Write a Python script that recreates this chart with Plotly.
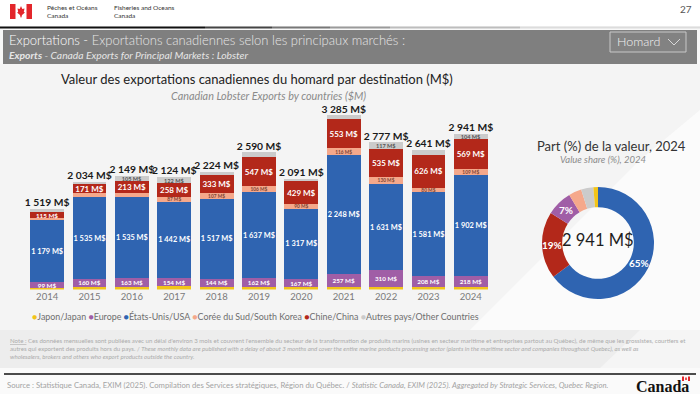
import math
import plotly.graph_objects as go

W, H = 700, 394


def px(x):
    return x / W


def py(y):
    return 1 - y / H


# ---------------- data ----------------
years = ["2014", "2015", "2016", "2017", "2018", "2019", "2020", "2021", "2022", "2023", "2024"]
japan = [35, 43, 53, 61, 53, 48, 38, 41, 54, 46, 39]
europe = [99, 160, 163, 154, 144, 162, 167, 257, 310, 208, 218]
usa = [1179, 1535, 1535, 1442, 1517, 1637, 1317, 2248, 1631, 1581, 1902]
korea = [30, 80, 80, 87, 107, 106, 90, 116, 130, 80, 109]
china = [115, 171, 213, 258, 333, 547, 429, 553, 535, 626, 569]
other = [61, 45, 105, 122, 70, 90, 50, 70, 117, 100, 104]
totals = [1519, 2034, 2149, 2124, 2224, 2590, 2091, 3285, 2777, 2641, 2941]

# which segment values carry a printed label in the reference
korea_labelled = [False, False, False, True, True, True, True, True, True, True, True]
other_labelled = [False, False, True, True, False, False, False, False, True, False, True]

series_names = ["Japon/Japan", "Europe", "États-Unis/USA", "Corée du Sud/South Korea",
                "Chine/China", "Autres pays/Other Countries"]

FONT = "Lato, 'Open Sans', sans-serif"
COL = {
    "japan": "#f2c419",
    "europe": "#a05ea6",
    "usa": "#2f64b1",
    "korea": "#f5a88b",
    "china": "#b3281a",
    "other": "#cbcbcb",
}


def fmt(v):
    return f"{v:,}".replace(",", " ") + " M$"


fig = go.Figure()

# (key, values, labels, text colour, text size)
stack = [
    ("japan", japan, [""] * len(years), "#ffffff", 6),
    ("europe", europe, [fmt(v) for v in europe], "#ffffff", 6.3),
    ("usa", usa, [fmt(v) for v in usa], "#ffffff", 7.4),
    ("korea", korea, [fmt(v) if f else "" for v, f in zip(korea, korea_labelled)], "#7a4535", 4.8),
    ("china", china, [fmt(v) for v in china], "#ffffff", [6.3] + [8] * 10),
    ("other", other, [fmt(v) if f else "" for v, f in zip(other, other_labelled)], "#555555", 5.6),
]
for (key, vals, txts, tcol, tsize), name in zip(stack, series_names):
    fig.add_trace(go.Bar(
        x=years, y=vals, name=name, marker=dict(color=COL[key], line=dict(width=0)),
        text=txts, textposition="inside", insidetextanchor="middle", textangle=0,
        constraintext="none",
        textfont=dict(color=tcol, size=tsize, family=FONT, weight="bold"),
        showlegend=False, hoverinfo="skip", cliponaxis=False,
    ))

fig.add_trace(go.Scatter(
    x=years, y=totals, mode="text", text=[fmt(v) for v in totals],
    textposition="top center",
    textfont=dict(size=10.3, color="#1a1a1a", family=FONT, weight="bold"),
    showlegend=False, hoverinfo="skip", cliponaxis=False,
))

# donut (2024)
donut_vals = [usa[-1], china[-1], europe[-1], korea[-1], other[-1], japan[-1]]
donut_cols = [COL["usa"], COL["china"], COL["europe"], COL["korea"], COL["other"], COL["japan"]]
CX, CY, R, HOLE = 598, 243, 56, 0.64
fig.add_trace(go.Pie(
    values=donut_vals, labels=[series_names[i] for i in (2, 4, 1, 3, 5, 0)],
    marker=dict(colors=donut_cols, line=dict(width=0)),
    hole=HOLE, sort=False, direction="clockwise", rotation=0,
    textinfo="none",
    domain=dict(x=[px(CX - R), px(CX + R)], y=[py(CY + R), py(CY - R)]),
    showlegend=False, hoverinfo="skip",
))

# ---------------- decoration shapes ----------------
shapes = []
# chart area background (light grey)
shapes.append(dict(type="rect", xref="paper", yref="paper", x0=0, x1=1, y0=py(330), y1=py(64),
                   fillcolor="#f4f4f4", line=dict(width=0), layer="below"))
shapes.append(dict(type="path", xref="paper", yref="paper",
                   path=f"M {px(470)} {py(330)} L {px(640)} {py(160)} L {px(700)} {py(110)} L {px(700)} {py(330)} Z",
                   fillcolor="#fbfbfb", line=dict(width=0), layer="below"))
# header white
shapes.append(dict(type="rect", xref="paper", yref="paper", x0=0, x1=1, y0=py(26), y1=1,
                   fillcolor="#ffffff", line=dict(width=0), layer="below"))
# gradient line under header
for x0, x1, c in [(0, 205, "#111111"), (205, 272, "#444444"), (272, 330, "#777777"),
                  (330, 390, "#9a9a9a"), (390, 520, "#bdbdbd"), (520, 700, "#dcdcdc")]:
    shapes.append(dict(type="rect", xref="paper", yref="paper", x0=px(x0), x1=px(x1),
                       y0=py(28.5), y1=py(26.5), fillcolor=c, line=dict(width=0)))
# grey banner
shapes.append(dict(type="rect", xref="paper", yref="paper", x0=px(3), x1=px(697),
                   y0=py(64), y1=py(30), fillcolor="#7f7f7f", line=dict(width=0)))
# dropdown
shapes.append(dict(type="rect", xref="paper", yref="paper", x0=px(610), x1=px(686),
                   y0=py(52), y1=py(32), fillcolor="#828282", line=dict(color="#c8c8c8", width=1)))
shapes.append(dict(type="path", xref="paper", yref="paper",
                   path=f"M {px(668)} {py(39)} L {px(674)} {py(45)} L {px(680)} {py(39)}",
                   line=dict(color="#d8d8d8", width=1)))
# note band
shapes.append(dict(type="rect", xref="paper", yref="paper", x0=0, x1=1, y0=py(368), y1=py(330),
                   fillcolor="#ededed", line=dict(width=0), layer="below"))
shapes.append(dict(type="path", xref="paper", yref="paper",
                   path=f"M {px(600)} {py(368)} L {px(640)} {py(330)} L {px(700)} {py(330)} L {px(700)} {py(368)} Z",
                   fillcolor="#f5f5f5", line=dict(width=0), layer="below"))
# footer
shapes.append(dict(type="rect", xref="paper", yref="paper", x0=0, x1=1, y0=0, y1=py(368),
                   fillcolor="#fafafa", line=dict(width=0), layer="below"))
shapes.append(dict(type="line", xref="paper", yref="paper", x0=px(4), x1=px(696),
                   y0=py(374), y1=py(374), line=dict(color="#111111", width=1.3)))
# Canada flag logo
shapes.append(dict(type="rect", xref="paper", yref="paper", x0=px(10), x1=px(15.5),
                   y0=py(19), y1=py(4), fillcolor="#e3262b", line=dict(width=0)))
shapes.append(dict(type="rect", xref="paper", yref="paper", x0=px(26.5), x1=px(32),
                   y0=py(19), y1=py(4), fillcolor="#e3262b", line=dict(width=0)))
leaf = [(21, 6), (22.3, 9), (24.5, 8.5), (23.8, 12), (25, 12.5), (22, 15), (21.4, 17.5),
        (20.6, 17.5), (20, 15), (17, 12.5), (18.2, 12), (17.5, 8.5), (19.7, 9)]
shapes.append(dict(type="path", xref="paper", yref="paper",
                   path="M " + " L ".join(f"{px(a)} {py(b)}" for a, b in leaf) + " Z",
                   fillcolor="#e3262b", line=dict(width=0)))
# small flag over Canada wordmark
shapes.append(dict(type="rect", xref="paper", yref="paper", x0=px(682), x1=px(684),
                   y0=py(381), y1=py(376.5), fillcolor="#e3262b", line=dict(width=0)))
shapes.append(dict(type="rect", xref="paper", yref="paper", x0=px(688), x1=px(690),
                   y0=py(381), y1=py(376.5), fillcolor="#e3262b", line=dict(width=0)))
shapes.append(dict(type="rect", xref="paper", yref="paper", x0=px(685.2), x1=px(686.8),
                   y0=py(380), y1=py(377.5), fillcolor="#e3262b", line=dict(width=0)))

# ---------------- texts ----------------
ann = []


def txt(x, y, s, size, color, xanchor="left", family=FONT, weight=None, **kw):
    f = dict(size=size, color=color, family=family)
    if weight is not None:
        f["weight"] = weight
    ann.append(dict(x=px(x), y=py(y), xref="paper", yref="paper", text=s, showarrow=False,
                    xanchor=xanchor, yanchor="middle", font=f, **kw))


txt(45, 11, "Pêches et Océans<br>Canada", 6.5, "#333333", align="left")
txt(112, 11, "Fisheries and Oceans<br>Canada", 6.5, "#333333", align="left")
txt(694, 9, "27", 10, "#555555", xanchor="right")
txt(7, 40, "<span style='color:#ffffff'>Exportations - </span>Exportations canadiennes selon les principaux marchés :",
    13, "#e6e6e6", weight=300)
txt(7, 55, "<b><i>Exports</i></b><i> - Canada Exports for Principal Markets : Lobster</i>", 10.3, "#e6e6e6")
txt(615, 42, "Homard", 12.5, "#f2f2f2", weight=300)

txt(257, 79, "Valeur des exportations canadiennes du homard par destination (M$)", 13, "#222222",
    xanchor="center")
txt(268, 95, "<i>Canadian Lobster Exports by countries ($M)</i>", 10.8, "#8a8a8a", xanchor="center")

legend_items = list(zip(series_names, [COL[k] for k in ("japan", "europe", "usa", "korea", "china", "other")]))
legend_txt = " ".join(f"<span style='color:{c}'>●</span>{n}" for n, c in legend_items)
txt(255, 316, legend_txt, 8.9, "#6e6e6e", xanchor="center")

txt(611, 146, "Part (%) de la valeur, 2024", 13, "#333333", xanchor="center")
txt(603, 159, "<i>Value share (%), 2024</i>", 9.5, "#8c8c8c", xanchor="center")
txt(CX, CY - 3, "2 941 M$", 16.5, "#1e1e1e", xanchor="center")

# donut percentage labels, placed at the middle angle of each slice
tot24 = sum(donut_vals)
cum = 0
for v in donut_vals:
    share = v / tot24
    mid = (cum + share / 2) * 2 * math.pi
    cum += share
    if share > 0.05:
        rr = R * (1 + HOLE) / 2
        txt(CX + rr * math.sin(mid), CY - rr * math.cos(mid), f"<b>{round(share * 100)}%</b>", 10,
            "#ffffff", xanchor="center")

note = ("<u>Note :</u> Ces données mensuelles sont publiées avec un délai d'environ 3 mois et couvrent l'ensemble du secteur de la transformation de produits marins (usines en secteur maritime et entreprises partout au Québec), de même que les grossistes, courtiers et<br>"
        "autres qui exportent des produits hors du pays. / <i>These monthly data are published with a delay of about 3 months and cover the entire marine products processing sector (plants in the maritime sector and companies throughout Quebec), as well as</i><br>"
        "<i>wholesalers, brokers and others who export products outside the country.</i>")
txt(8, 348, note, 6.1, "#ababab", align="left")
txt(5, 385, "Source : Statistique Canada, EXIM (2025). Compilation des Services stratégiques, Région du Québec. / "
    "<i>Statistic Canada, EXIM (2025). Aggregated by Strategic Services, Quebec Region.</i>", 7.7, "#a3a3a3")
txt(691, 386, "<b>Canada</b>", 16, "#111111", xanchor="right", family="'Liberation Serif', 'DejaVu Serif', serif")

# ---------------- layout ----------------
fig.update_layout(
    width=W, height=H, margin=dict(l=0, r=0, t=0, b=0),
    paper_bgcolor="#f8f8f8", plot_bgcolor="rgba(0,0,0,0)",
    barmode="stack", bargap=0.2,
    font=dict(family=FONT),
    xaxis=dict(domain=[px(23.6), px(494.4)], type="category", showgrid=False, showline=False,
               zeroline=False, ticks="", tickfont=dict(size=9.5, color="#7a7a7a", family=FONT),
               fixedrange=True),
    yaxis=dict(domain=[py(289.5), py(104.1)], range=[0, 3500], visible=False, fixedrange=True),
    shapes=shapes, annotations=ann,
)

fig.write_html("out.html", config={"displayModeBar": False},
               post_script="document.body.style.margin='0';document.body.style.overflow='hidden';")
